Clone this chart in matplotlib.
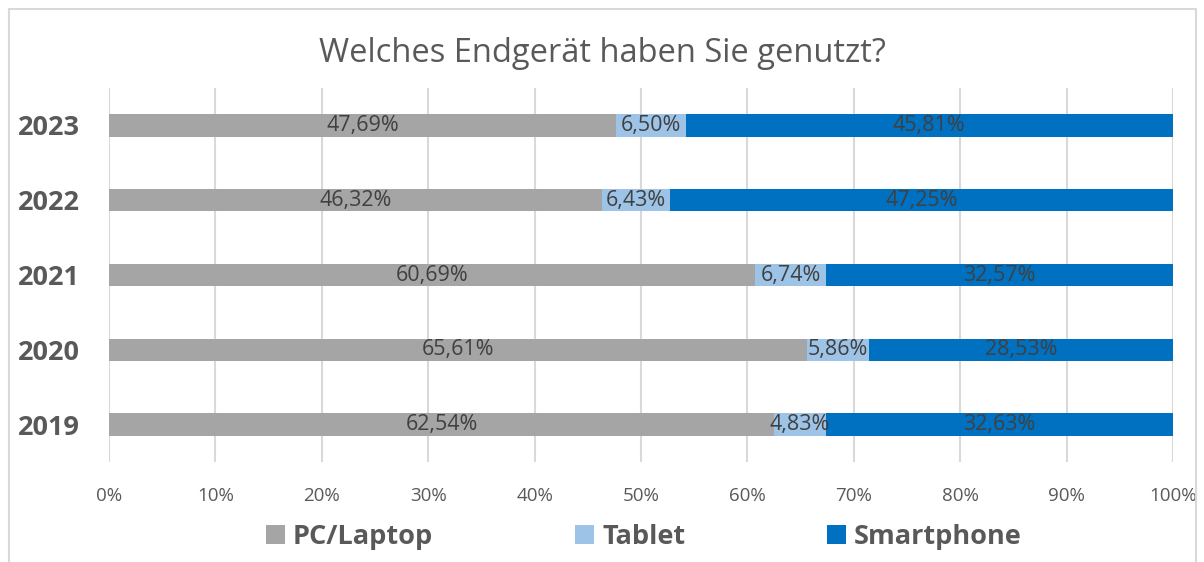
import numpy as np
import matplotlib.pyplot as plt
from matplotlib.patches import Rectangle

years = ["2019", "2020", "2021", "2022", "2023"]
series = ["PC/Laptop", "Tablet", "Smartphone"]
pc = [62.54, 65.61, 60.69, 46.32, 47.69]
tablet = [4.83, 5.86, 6.74, 6.43, 6.50]
smartphone = [32.63, 28.53, 32.57, 47.25, 45.81]
colors = ["#A5A5A5", "#9DC3E6", "#0070C0"]

plt.rcParams["font.family"] = ["Open Sans", "DejaVu Sans"]
txt = "#595959"

fig = plt.figure(figsize=(12.04, 5.62), dpi=100)
ax = fig.add_axes([109 / 1204, 1 - 462 / 562, 1064 / 1204, 374 / 562])

y = np.arange(len(years))
left = np.zeros(len(years))
handles = []
for name, vals, c in zip(series, [pc, tablet, smartphone], colors):
    vals = np.array(vals)
    b = ax.barh(y, vals, left=left, height=0.3, color=c, label=name, zorder=3)
    handles.append(b)
    for yi, l, v in zip(y, left, vals):
        ax.text(l + v / 2, yi, f"{v:.2f}%".replace(".", ","), ha="center", va="center",
                fontsize=15.5, color="#404040", zorder=4)
    left = left + vals

ax.set_xlim(0, 100)
ax.set_ylim(-0.5, 4.5)
ax.set_xticks(np.arange(0, 101, 10))
ax.set_xticklabels([f"{t}%" for t in range(0, 101, 10)], fontsize=13.5, color=txt)
ax.set_yticks(y)
ax.set_yticklabels(years, fontsize=19.5, fontweight="bold", color=txt)
ax.tick_params(axis="x", length=0, pad=18)
ax.tick_params(axis="y", length=0, pad=21)
ax.grid(axis="x", color="#D9D9D9", linewidth=1.5, zorder=0)
for s in ax.spines.values():
    s.set_visible(False)

fig.text(0.5, 1 - 54 / 562, "Welches Endgerät haben Sie genutzt?", ha="center", va="center",
         fontsize=23.5, color=txt)

# one legend entry per position, as in the reference layout
legend_x = [266 / 1204, 575 / 1204, 827 / 1204]
for h, name, lx in zip(handles, series, legend_x):
    fig.legend(handles=[h], labels=[name], loc="center left", bbox_to_anchor=(lx, 1 - 537 / 562),
               frameon=False, handlelength=0.7, handleheight=0.7, handletextpad=0.3,
               borderpad=0, borderaxespad=0, prop={"size": 19.5, "weight": "bold"}, labelcolor=txt)

fig.patches.append(Rectangle((9 / 1204, -0.01), 1187 / 1204, 1 - 9 / 562 + 0.01, transform=fig.transFigure,
                             fill=False, edgecolor="#D9D9D9", linewidth=1.5))

fig.savefig("out.png", dpi=100)
